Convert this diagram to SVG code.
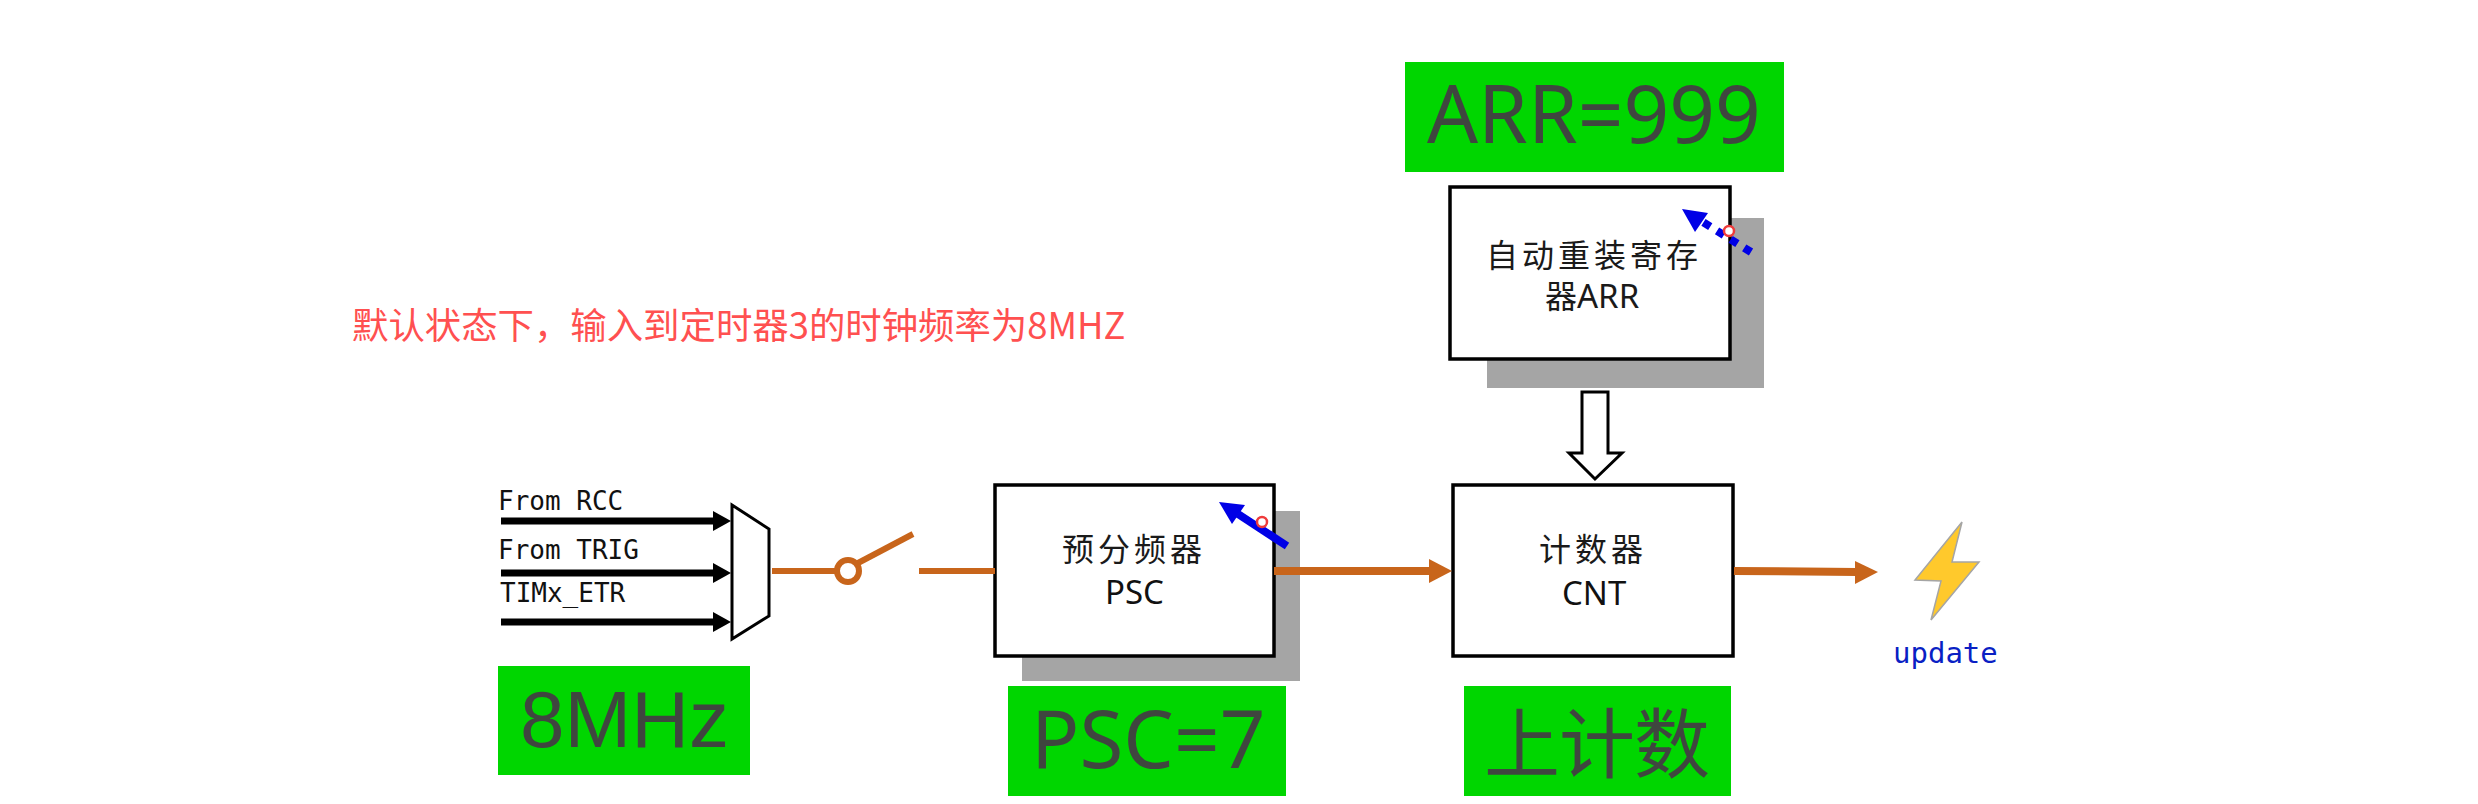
<svg xmlns="http://www.w3.org/2000/svg" width="2478" height="804" viewBox="0 0 2478 804">
  <style>
    text { font-family: "Noto Sans", "Noto Sans CJK SC", sans-serif; }
    .shadow { fill: #a5a5a5; }
    .box { fill: #ffffff; stroke: #000000; stroke-width: 3.5; }
    .green { fill: #00d600; }
    .big { font-size: 80px; fill: #3f463f; }
    .cjk { font-family: "Noto Sans CJK SC", "Noto Sans", sans-serif; font-size: 32px; letter-spacing: 4px; fill: #1a1a1a; }
    .lat { font-size: 33px; fill: #111111; }
    .mono { font-family: "DejaVu Sans Mono", monospace; font-size: 26px; fill: #111111; }
    .inp { stroke: #000000; stroke-width: 7; fill: none; }
    .org { stroke: #c8651b; fill: none; stroke-width: 6; }
    .orgfill { fill: #c8651b; }
    .pivot { fill: #ffffff; stroke: #ef3b3b; stroke-width: 2.5; }
  </style>

  <rect width="2478" height="804" fill="#ffffff"/>

  <text id="note" x="352" y="339" font-size="36.4" fill="#ff5050" style="font-family:'Noto Sans CJK SC','Noto Sans',sans-serif">默认状态下，输入到定时器3的时钟频率为8MHZ</text>

  <g id="arr-value">
    <rect class="green" x="1405" y="62" width="379" height="110"/>
    <text class="big" x="1427" y="143">ARR=999</text>
  </g>

  <g id="arr">
    <rect class="shadow" x="1487" y="218" width="277" height="170"/>
    <rect class="box" x="1450" y="187" width="280" height="172"/>
    <text class="cjk" x="1486" y="267">自动重装寄存</text>
    <text class="cjk" x="1545" y="308" style="letter-spacing:0">器<tspan style="font-family:'Noto Sans',sans-serif;font-size:33px">ARR</tspan></text>
    <line x1="1751" y1="252" x2="1698" y2="219" stroke="#0000e6" stroke-width="8" stroke-dasharray="8 8"/>
    <polygon points="1682,209 1708,213 1695,232" fill="#0000e6"/>
    <circle class="pivot" cx="1729" cy="231" r="5"/>
  </g>

  <g id="mux">
    <polygon points="732,505 769,529 769,616 732,639" fill="#ffffff" stroke="#000000" stroke-width="3"/>
  </g>

  <g id="inputs">
    <text class="mono" x="498" y="510">From RCC</text>
    <text class="mono" x="498" y="559">From TRIG</text>
    <text class="mono" x="500" y="602">TIMx_ETR</text>
  </g>

  <g id="clock-value">
    <rect class="green" x="498" y="666" width="252" height="109"/>
    <text class="big" x="520" y="747" style="font-family:'Liberation Sans',sans-serif;font-size:80px">8MHz</text>
  </g>

  <g id="switch">
    <circle cx="848" cy="571" r="11" fill="#ffffff" stroke="#c8651b" stroke-width="6"/>
  </g>

  <g id="psc">
    <rect class="shadow" x="1022" y="511" width="278" height="170"/>
    <rect class="box" x="995" y="485" width="279" height="171"/>
    <text class="cjk" x="1062" y="561">预分频器</text>
    <text class="lat" x="1105" y="604">PSC</text>
    <line x1="1287" y1="546" x2="1238" y2="514" stroke="#0000e6" stroke-width="8"/>
    <polygon points="1219,502 1245,505 1232,524" fill="#0000e6"/>
    <circle class="pivot" cx="1262" cy="522" r="5"/>
  </g>

  <g id="psc-value">
    <rect class="green" x="1008" y="686" width="278" height="110"/>
    <text class="big" x="1031" y="768">PSC=7</text>
  </g>

  <g id="cnt">
    <rect class="box" x="1453" y="485" width="280" height="171"/>
    <text class="cjk" x="1539" y="561">计数器</text>
    <text class="lat" x="1562" y="605">CNT</text>
  </g>

  <g id="cnt-value">
    <rect class="green" x="1464" y="686" width="267" height="110"/>
    <text class="big" x="1484" y="772" style="font-family:'Noto Sans CJK SC',sans-serif;font-size:76px;letter-spacing:-1px">上计数</text>
  </g>

  <g id="update">
    <polygon points="1962,522 1952,562 1979,562 1931,620 1941,581 1915,580" fill="#ffc92c" stroke="#a5a5a5" stroke-width="1.5"/>
    <text x="1893" y="663" style="font-family:'DejaVu Sans Mono',monospace;font-size:29px" fill="#0a1fc4">update</text>
  </g>

  <g id="connectors">
    <line class="inp" x1="501" y1="521" x2="716" y2="521"/>
    <polygon points="713,511 731,521 713,531" fill="#000000"/>
    <line class="inp" x1="501" y1="573" x2="716" y2="573"/>
    <polygon points="713,563 731,573 713,583" fill="#000000"/>
    <line class="inp" x1="501" y1="622" x2="716" y2="622"/>
    <polygon points="713,612 731,622 713,632" fill="#000000"/>
    <line class="org" x1="772" y1="571" x2="837" y2="571"/>
    <line class="org" x1="858" y1="563" x2="913" y2="534"/>
    <line class="org" x1="919" y1="571" x2="995" y2="571"/>
    <line class="org" style="stroke-width:8" x1="1274" y1="571" x2="1431" y2="571"/>
    <polygon class="orgfill" points="1429,559 1452,571 1429,583"/>
    <line class="org" style="stroke-width:8" x1="1734" y1="571" x2="1857" y2="572"/>
    <polygon class="orgfill" points="1855,561 1878,572 1855,584"/>
    <polygon points="1582,392 1608,392 1608,453 1622,453 1595,479 1569,453 1582,453" fill="#ffffff" stroke="#000000" stroke-width="3"/>
  </g>
</svg>
